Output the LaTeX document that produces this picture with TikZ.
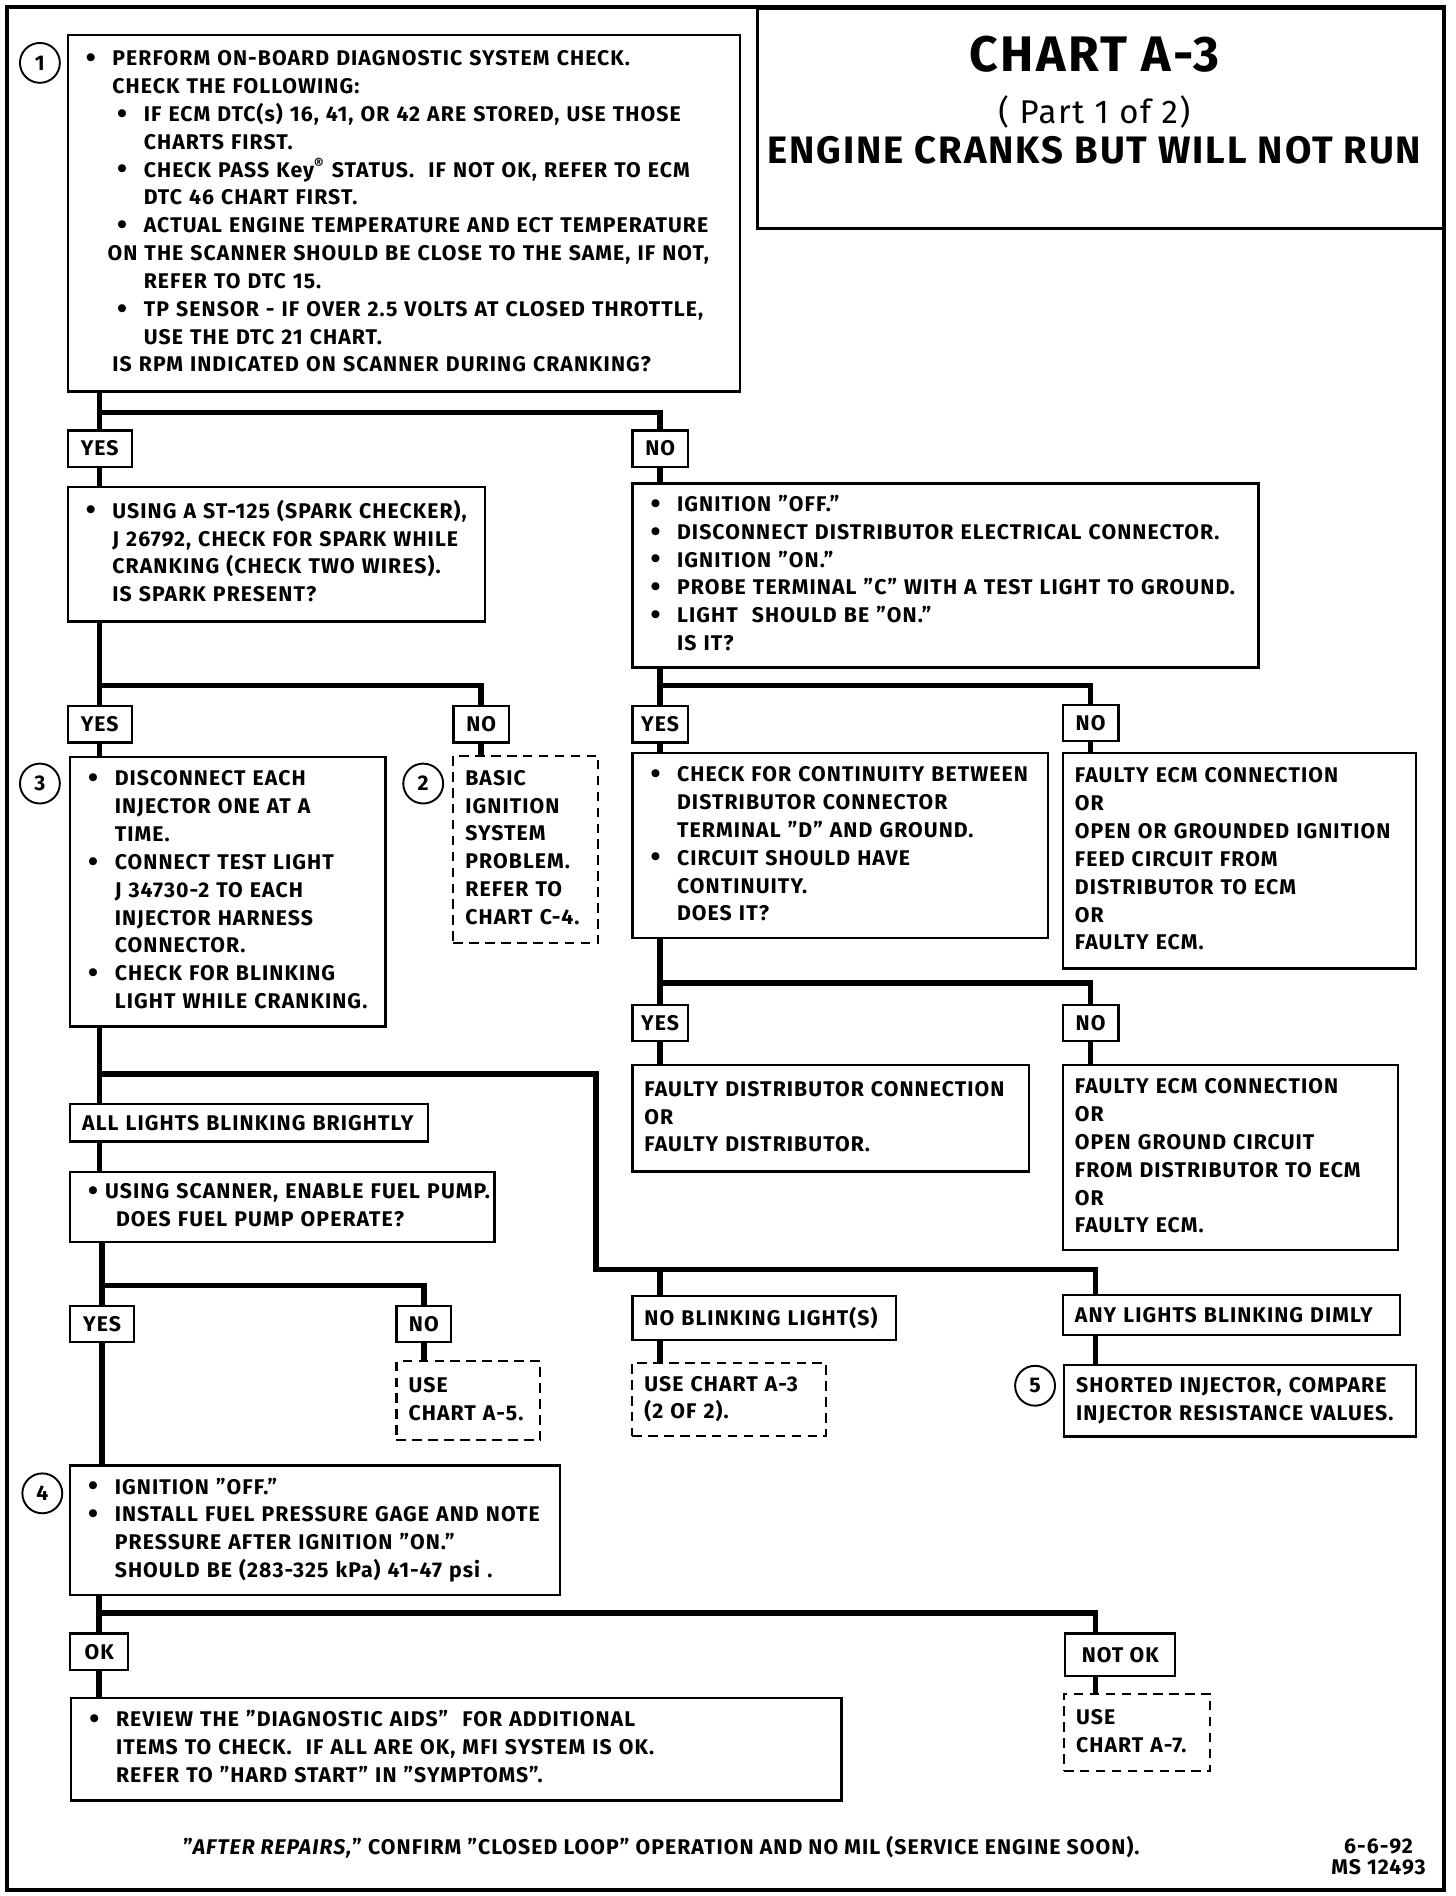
\documentclass[tikz,border=0pt]{standalone}
\usepackage{fontspec}
\setmainfont{Fira Sans}[LetterSpace=5]
\newcommand{\bul}{\makebox[0.44cm][l]{\raisebox{-0.15ex}{\scalebox{1.35}{\textbullet}}}}
\newcommand{\rows}[1]{\begin{tabular}{@{}l@{}}#1\end{tabular}}

\begin{document}
\begin{tikzpicture}[
		x = 0.02cm, y = -0.02cm,
		every node/.style = {font=\fontsize{10}{13.1}\selectfont\bfseries},
		bx/.style  = {draw, line width=1.1pt, anchor=north west, inner xsep=0.3cm, inner ysep=0pt},
		nt/.style  = {bx, inner xsep=0.2cm},
		rf/.style  = {nt, line width=1pt, dash pattern=on 4.5pt off 3pt},
		tg/.style  = {draw, line width=1.1pt, anchor=north west, inner sep=0pt, minimum height=0.6cm},
		wtg/.style = {tg, inner xsep=0.2cm, text width=#1},
		nm/.style  = {circle, draw, line width=0.9pt, minimum size=0.66cm, inner sep=0pt},
		ln/.style  = {line width=2.6pt},
		frm/.style = {line width=1.8pt}
		]
		\useasboundingbox (0,0) rectangle (1204,1568);
		\draw[frm] (6,6) rectangle (1194,1563);
		
		\node[draw, line width=1.3pt, anchor=north west, minimum width=11.38cm, minimum height=3.64cm] (head) at (625,6) {};
		\node[font=\fontsize{23.5}{26}\selectfont\bfseries] (ttl) at (905,45) {CHART A-3};
		\node[font=\fontsize{15.5}{18}\selectfont] (part) at (905,93) {( Part 1 of 2)};
		\node[font=\fontsize{18}{21}\selectfont\bfseries] (sub) at (905,124) {ENGINE CRANKS BUT WILL NOT RUN};
		
		\node[nm] (c1) at (33,52) {1};
		\node[bx, text width=10.52cm, minimum height=5.9cm] (chk) at (55,28) {\rows{
			\bul PERFORM ON-BOARD DIAGNOSTIC SYSTEM CHECK.\\
			\hspace*{0.44cm}CHECK THE FOLLOWING:\\
			\hspace*{0.52cm}\bul IF ECM DTC(s) 16, 41, OR 42 ARE STORED, USE THOSE\\
			\hspace*{0.96cm}CHARTS FIRST.\\
			\hspace*{0.52cm}\bul CHECK PASS Key\textsuperscript{®} STATUS.\ \ IF NOT OK, REFER TO ECM\\
			\hspace*{0.96cm}DTC 46 CHART FIRST.\\
			\hspace*{0.52cm}\bul ACTUAL ENGINE TEMPERATURE AND ECT TEMPERATURE\\
			\hspace*{0.36cm}ON THE SCANNER SHOULD BE CLOSE TO THE SAME, IF NOT,\\
			\hspace*{0.96cm}REFER TO DTC 15.\\
			\hspace*{0.52cm}\bul TP SENSOR - IF OVER 2.5 VOLTS AT CLOSED THROTTLE,\\
			\hspace*{0.96cm}USE THE DTC 21 CHART.\\
			\hspace*{0.44cm}IS RPM INDICATED ON SCANNER DURING CRANKING?}};
		
		\node[tg, minimum width=1.06cm] (yA) at (55,355) {YES};
		\node[tg, minimum width=0.92cm] (nA) at (522,355) {NO};
		
		\node[bx, text width=6.3cm, minimum height=2.22cm] (spark) at (55,402) {\rows{
			\bul USING A ST-125 (SPARK CHECKER),\\
			\hspace*{0.44cm}J 26792, CHECK FOR SPARK WHILE\\
			\hspace*{0.44cm}CRANKING (CHECK TWO WIRES).\\
			\hspace*{0.44cm}IS SPARK PRESENT?}};
		\node[bx, text width=9.76cm, minimum height=3.04cm] (ign) at (522,399) {\rows{
			\bul IGNITION "OFF."\\
			\bul DISCONNECT DISTRIBUTOR ELECTRICAL CONNECTOR.\\
			\bul IGNITION "ON."\\
			\bul PROBE TERMINAL "C" WITH A TEST LIGHT TO GROUND.\\
			\bul LIGHT\ \ SHOULD BE "ON."\\
			\hspace*{0.44cm}IS IT?}};
		
		\node[tg, minimum width=1.06cm] (yB) at (55,583) {YES};
		\node[tg, minimum width=0.92cm] (nB) at (374,583) {NO};
		\node[tg, minimum width=0.92cm] (yC) at (522,583) {YES};
		\node[tg, minimum width=0.92cm] (nC) at (878,582) {NO};
		
		\node[nm] (c3) at (33,648) {3};
		\node[bx, text width=4.62cm, minimum height=4.46cm] (inj) at (57,625) {\rows{
			\bul DISCONNECT EACH\\
			\hspace*{0.44cm}INJECTOR ONE AT A\\
			\hspace*{0.44cm}TIME.\\
			\bul CONNECT TEST LIGHT\\
			\hspace*{0.44cm}J 34730-2 TO EACH\\
			\hspace*{0.44cm}INJECTOR HARNESS\\
			\hspace*{0.44cm}CONNECTOR.\\
			\bul CHECK FOR BLINKING\\
			\hspace*{0.44cm}LIGHT WHILE CRANKING.}};
		\node[nm] (c2) at (350,648) {2};
		\node[rf, text width=2.0cm, minimum height=3.1cm] (basic) at (374,624) {\rows{
			BASIC\\IGNITION\\SYSTEM\\PROBLEM.\\REFER TO\\CHART C-4.}};
		\node[bx, text width=6.28cm, minimum height=3.06cm] (cont) at (522,622) {\rows{
			\bul CHECK FOR CONTINUITY BETWEEN\\
			\hspace*{0.44cm}DISTRIBUTOR CONNECTOR\\
			\hspace*{0.44cm}TERMINAL "D" AND GROUND.\\
			\bul CIRCUIT SHOULD HAVE\\
			\hspace*{0.44cm}CONTINUITY.\\
			\hspace*{0.44cm}DOES IT?}};
		\node[nt, text width=5.44cm, minimum height=3.56cm] (ecmA) at (878,622) {\rows{
			FAULTY ECM CONNECTION\\OR\\OPEN OR GROUNDED IGNITION\\FEED CIRCUIT FROM\\
			DISTRIBUTOR TO ECM\\OR\\FAULTY ECM.}};
		
		\node[tg, minimum width=0.92cm] (yD) at (522,830) {YES};
		\node[tg, minimum width=0.92cm] (nD) at (878,830) {NO};
		\node[nt, text width=6.16cm, minimum height=1.76cm] (dist) at (522,880) {\rows{
			FAULTY DISTRIBUTOR CONNECTION\\OR\\FAULTY DISTRIBUTOR.}};
		\node[nt, text width=5.14cm, minimum height=3.06cm] (ecmB) at (878,880) {\rows{
			FAULTY ECM CONNECTION\\OR\\OPEN GROUND CIRCUIT\\FROM DISTRIBUTOR TO ECM\\OR\\FAULTY ECM.}};
		
		\node[wtg=5.52cm, minimum height=0.62cm] (bright) at (57,912) {ALL LIGHTS BLINKING BRIGHTLY};
		\node[bx, text width=6.42cm, minimum height=1.16cm] (pump) at (57,968) {\rows{
			\makebox[0.28cm][l]{\raisebox{-0.15ex}{\scalebox{1.35}{\textbullet}}}USING SCANNER, ENABLE FUEL PUMP.\\
			\hspace*{0.46cm}DOES FUEL PUMP OPERATE?}};
		
		\node[tg, minimum width=1.06cm] (yE) at (57,1079) {YES};
		\node[tg, minimum width=0.9cm] (nE) at (327,1079) {NO};
		\node[rf, text width=1.98cm, minimum height=1.3cm] (useA5) at (327,1125) {\rows{USE\\CHART A-5.}};
		\node[wtg=3.96cm, minimum height=0.72cm] (noblink) at (522,1071) {NO BLINKING LIGHT(S)};
		\node[rf, text width=2.8cm, minimum height=1.22cm] (useA3) at (522,1126) {\rows{USE CHART A-3\\(2 OF 2).}};
		\node[wtg=5.18cm, minimum height=0.66cm] (dim) at (878,1070) {ANY LIGHTS BLINKING DIMLY};
		\node[nm] (c5) at (856,1146) {5};
		\node[nt, text width=5.42cm, minimum height=1.18cm] (short) at (879,1128) {\rows{
			SHORTED INJECTOR, COMPARE\\INJECTOR RESISTANCE VALUES.}};
		
		\node[nm] (c4) at (35,1235) {4};
		\node[bx, text width=7.5cm, minimum height=2.14cm] (press) at (57,1211) {\rows{
			\bul IGNITION "OFF."\\
			\bul INSTALL FUEL PRESSURE GAGE AND NOTE\\
			\hspace*{0.44cm}PRESSURE AFTER IGNITION "ON."\\
			\hspace*{0.44cm}SHOULD BE (283-325 kPa) 41-47 psi .}};
		
		\node[tg, minimum width=0.96cm] (okF) at (57,1350) {OK};
		\node[tg, minimum width=1.82cm, minimum height=0.7cm] (notok) at (880,1350) {NOT OK};
		\node[bx, text width=12.14cm, minimum height=1.7cm] (review) at (58,1403) {\rows{
			\bul REVIEW THE "DIAGNOSTIC AIDS"\ \ FOR ADDITIONAL\\
			\hspace*{0.44cm}ITEMS TO CHECK.\ \ IF ALL ARE OK, MFI SYSTEM IS OK.\\
			\hspace*{0.44cm}REFER TO "HARD START" IN "SYMPTOMS".}};
		\node[rf, text width=2.02cm, minimum height=1.28cm] (useA7) at (879,1400) {\rows{USE\\CHART A-7.}};
		
		\node (foot) at (547,1528) {"\textit{AFTER REPAIRS,}" CONFIRM "CLOSED LOOP" OPERATION AND NO MIL (SERVICE ENGINE SOON).};
		\node[align=center, font=\fontsize{10}{9.8}\selectfont\bfseries] (stamp) at (1140,1536) {6-6-92\\MS 12493};
		
		\coordinate (jA) at (yA |- 0,341);
		\coordinate (jB) at (yB |- 0,567);
		\coordinate (jC) at (yC |- 0,567);
		\coordinate (jD) at (yD |- 0,813);
		\coordinate (jE) at (yB |- 0,888);
		\coordinate (jF) at (493,1050);
		\coordinate (jG) at (906,1050);
		\coordinate (jH) at (yE |- 0,1063);
		\coordinate (jI) at (okF |- 0,1334);
		\coordinate (jJ) at (906,1334);
		
		\draw[ln] (chk.south -| yA) -- (yA.north)  (jA) -| (nA.north);
		\draw[ln] (yA.south) -- (yA.south |- spark.north);
		\draw[ln] (nA.south) -- (nA.south |- ign.north);
		
		\draw[ln] (spark.south -| yB) -- (yB.north)  (jB) -| (nB.north);
		\draw[ln] (yB.south) -- (yB.south |- inj.north);
		\draw[ln] (nB.south) -- (nB.south |- basic.north);
		\draw[ln] (ign.south -| yC) -- (yC.north)  (jC) -| (nC.north);
		\draw[ln] (yC.south) -- (yC.south |- cont.north);
		\draw[ln] (nC.south) -- (nC.south |- ecmA.north);
		\draw[ln] (cont.south -| yD) -- (yD.north)  (jD) -| (nD.north);
		\draw[ln] (yD.south) -- (yD.south |- dist.north);
		\draw[ln] (nD.south) -- (nD.south |- ecmB.north);
		
		\draw[ln] (inj.south -| jE) -- (jE |- bright.north);
		\draw[ln] (jE) -| (jF) -| (jG |- dim.north);
		\draw[ln] (yD |- jF) -- (yD |- noblink.north);
		\draw[ln] (yD |- noblink.south) -- (yD |- useA3.north);
		\draw[ln] (jG |- dim.south) -- (jG |- short.north);
		
		\draw[ln] (jE |- bright.south) -- (jE |- pump.north);
		\draw[ln] (pump.south -| yE) -- (yE.north)  (jH) -| (nE.north);
		\draw[ln] (nE.south) -- (nE.south |- useA5.north);
		\draw[ln] (yE.south) -- (yE.south |- press.north);
		
		\draw[ln] (press.south -| okF) -- (okF.north)  (jI) -- (jJ) -- (jJ |- notok.north);
		\draw[ln] (okF.south) -- (okF.south |- review.north);
		\draw[ln] (jJ |- notok.south) -- (jJ |- useA7.north);
	\end{tikzpicture}
\end{document}
